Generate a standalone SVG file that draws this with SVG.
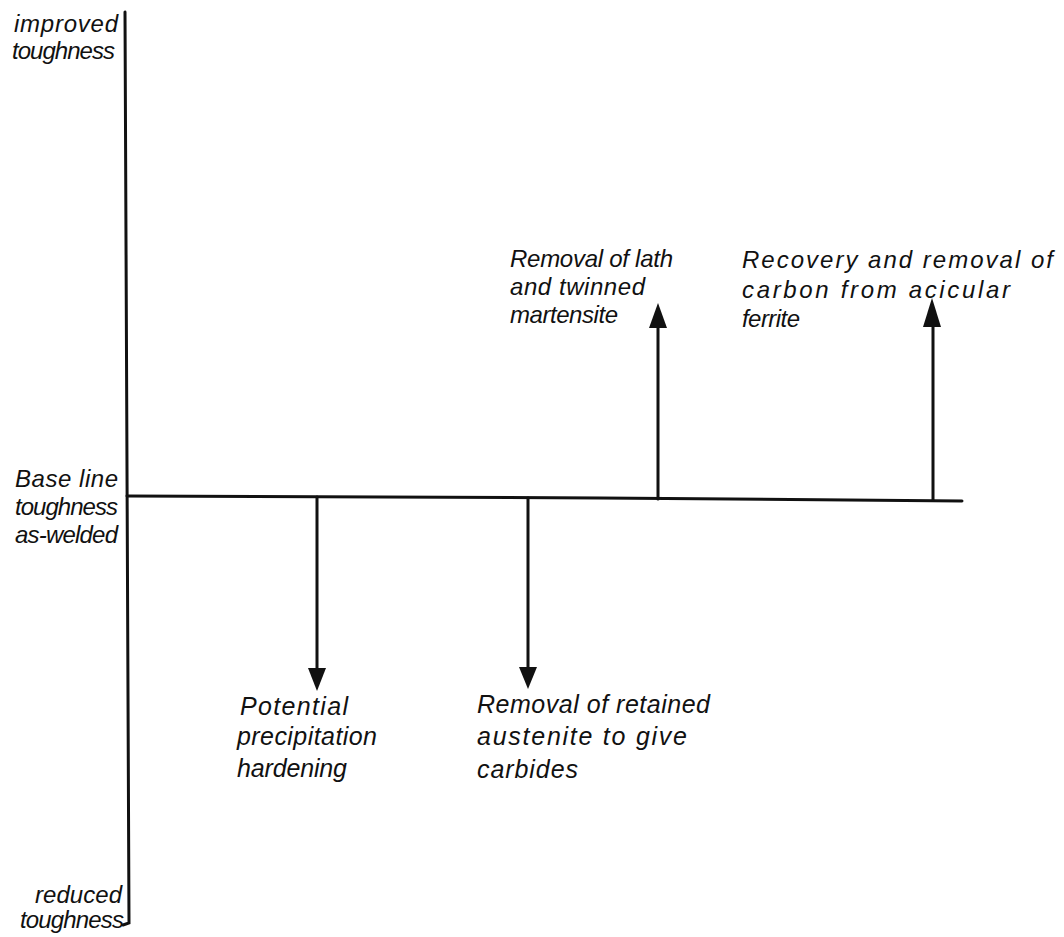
<svg xmlns="http://www.w3.org/2000/svg" width="1064" height="937" viewBox="0 0 1064 937">
<style>
.t{font-family:"Liberation Sans",Arial,sans-serif;font-style:italic;font-size:24px;fill:#111}
.b{font-size:25px}
.ln{stroke:#111;stroke-width:3;fill:none;stroke-linecap:round}
.hd{fill:#111}
</style>
<rect width="1064" height="937" fill="#fff"/>
<g id="axes">
<path class="ln" d="M125,12 L129,923 L123,925"/>
<path class="ln" d="M127,496 L600,498 L962,501"/>
</g>
<g id="connectors">
<line class="ln" x1="317" y1="497" x2="317" y2="668"/>
<path class="hd" d="M308,668 L326,668 L317,691 Z"/>
<line class="ln" x1="528" y1="498" x2="528" y2="667"/>
<path class="hd" d="M519,667 L537,667 L528,689 Z"/>
<line class="ln" x1="658" y1="499" x2="658" y2="326"/>
<path class="hd" d="M658,303 L667,328 L649,328 Z"/>
<line class="ln" x1="933" y1="500" x2="933" y2="325"/>
<path class="hd" d="M932,298 L941,327 L923,327 Z"/>
</g>
<g id="label-improved">
<text class="t" x="14" y="32" textLength="104" lengthAdjust="spacing">improved</text>
<text class="t" x="12" y="59" textLength="103" lengthAdjust="spacing">toughness</text>
</g>
<g id="label-base">
<text class="t" x="15" y="487" textLength="103" lengthAdjust="spacing">Base line</text>
<text class="t" x="15" y="515" textLength="103" lengthAdjust="spacing">toughness</text>
<text class="t" x="15" y="543" textLength="103" lengthAdjust="spacing">as-welded</text>
</g>
<g id="label-reduced">
<text class="t" x="35" y="903" textLength="87" lengthAdjust="spacing">reduced</text>
<text class="t" x="20" y="928" textLength="104" lengthAdjust="spacing">toughness</text>
</g>
<g id="node-lath">
<text class="t" x="510" y="267" textLength="163" lengthAdjust="spacing">Removal of lath</text>
<text class="t" x="510" y="295" textLength="135" lengthAdjust="spacing">and twinned</text>
<text class="t" x="510" y="323" textLength="108" lengthAdjust="spacing">martensite</text>
</g>
<g id="node-recovery">
<text class="t" x="742" y="268" textLength="311" lengthAdjust="spacing">Recovery  and removal of</text>
<text class="t" x="742" y="298" textLength="268" lengthAdjust="spacing">carbon from acicular</text>
<text class="t" x="742" y="327" textLength="58" lengthAdjust="spacing">ferrite</text>
</g>
<g id="node-precip">
<text class="t b" x="240" y="715" textLength="108" lengthAdjust="spacing">Potential</text>
<text class="t b" x="237" y="745" textLength="140" lengthAdjust="spacing">precipitation</text>
<text class="t b" x="237" y="777" textLength="110" lengthAdjust="spacing">hardening</text>
</g>
<g id="node-austenite">
<text class="t b" x="477" y="713" textLength="233" lengthAdjust="spacing">Removal of retained</text>
<text class="t b" x="477" y="745" textLength="210" lengthAdjust="spacing">austenite  to give</text>
<text class="t b" x="477" y="778" textLength="101" lengthAdjust="spacing">carbides</text>
</g>
</svg>
